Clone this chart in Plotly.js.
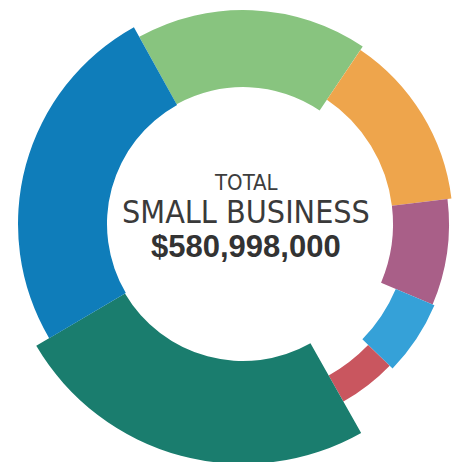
<!DOCTYPE html>
<html>
<head>
<meta charset="utf-8">
<script src="https://cdn.plot.ly/plotly-3.0.1.min.js"></script>
<style>
  html, body { margin: 0; padding: 0; width: 456px; height: 462px; overflow: hidden; background: #ffffff; }
  #chart { position: absolute; left: -7px; top: -26px; width: 500px; height: 500px; }
</style>
</head>
<body>
<div id="chart"></div>
<script>
// ---- data (US$ millions) ----
const categories = ['Segment A', 'Segment B', 'Segment C', 'Segment D', 'Segment E', 'Segment F', 'Segment G'];
const amounts = [101.7, 79.1, 48.4, 33.9, 26.6, 143.6, 147.7];
const totalLabel = ['TOTAL', 'SMALL BUSINESS', '$580,998,000'];

// ---- style ----
const colors = ['#88c47f', '#eea54c', '#a95f88', '#35a1d8', '#c9565f', '#1a7d6e', '#0f7dba'];
const innerRadius = [137, 150, 150, 166, 174, 137, 136];
const outerRadius = [214, 210, 206, 208, 204, 240, 225];
const startAngle = -29;

const total = amounts.reduce((a, b) => a + b, 0);
let cum = 0;
const thetas = [], widths = [];
amounts.forEach(v => {
  const w = v / total * 360;
  thetas.push(startAngle + (cum + v / 2) / total * 360);
  widths.push(w);
  cum += v;
});

const trace = {
  type: 'barpolar',
  theta: thetas,
  width: widths,
  base: innerRadius,
  r: outerRadius.map((o, i) => o - innerRadius[i]),
  text: categories,
  customdata: amounts,
  marker: { color: colors, line: { width: 0 } },
  hoverinfo: 'skip'
};

const condFont = 'DejaVu Sans Condensed, sans-serif';
const numFont = 'Liberation Sans, Arial, sans-serif';
const layout = {
  width: 500, height: 500,
  margin: { l: 0, r: 0, t: 0, b: 0, pad: 0 },
  paper_bgcolor: '#ffffff',
  showlegend: false,
  polar: {
    domain: { x: [0, 1], y: [0, 1] },
    bgcolor: 'rgba(0,0,0,0)',
    radialaxis: { visible: false, range: [0, 250] },
    angularaxis: { visible: false, direction: 'clockwise', rotation: 90, thetaunit: 'degrees' },
    bargap: 0
  },
  annotations: [
    { text: totalLabel[0], xref: 'paper', yref: 'paper', x: 0.506, y: 0.584, xanchor: 'center', yanchor: 'middle', showarrow: false, font: { family: condFont, size: 22, color: '#3d3d3d' } },
    { text: totalLabel[1], xref: 'paper', yref: 'paper', x: 0.506, y: 0.524, xanchor: 'center', yanchor: 'middle', showarrow: false, font: { family: condFont, size: 32, color: '#3a3a3a' } },
    { text: '<b>' + totalLabel[2] + '</b>', xref: 'paper', yref: 'paper', x: 0.506, y: 0.456, xanchor: 'center', yanchor: 'middle', showarrow: false, font: { family: numFont, size: 31, color: '#333333' } }
  ]
};

Plotly.newPlot('chart', [trace], layout, { displayModeBar: false, staticPlot: true });
</script>
</body>
</html>
